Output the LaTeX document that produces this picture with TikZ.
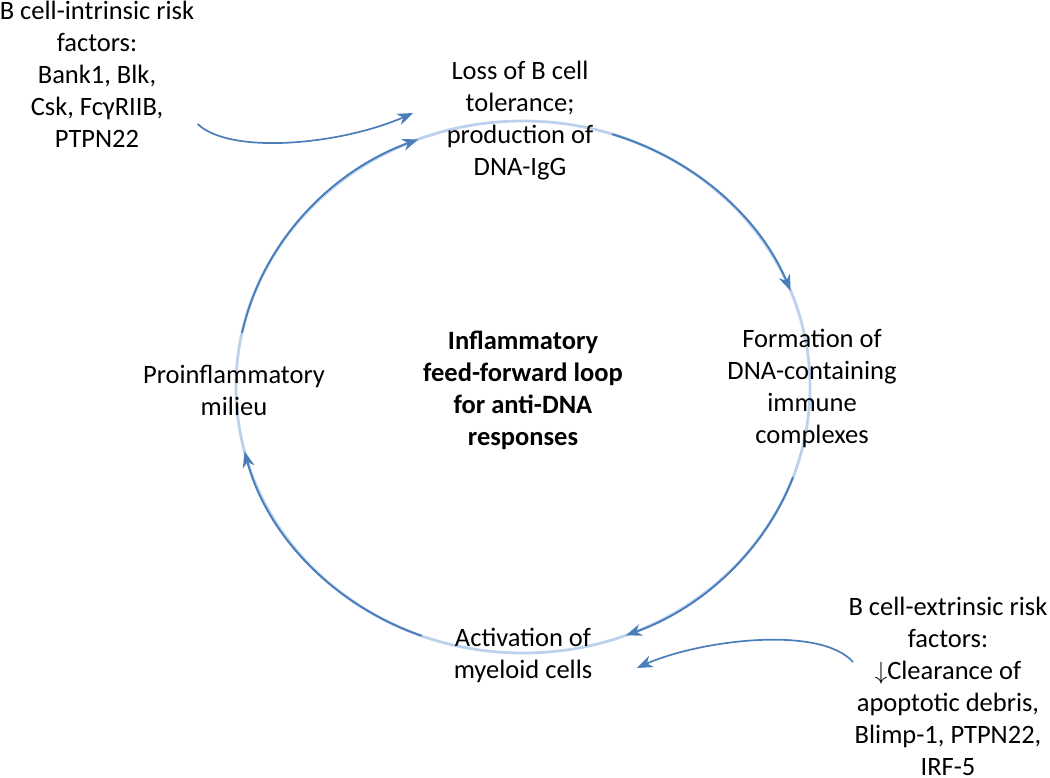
\documentclass[tikz,border=0pt]{standalone}
\usepackage{fontspec}
\setmainfont{Carlito}
\usepackage{tikz}
\usetikzlibrary{arrows.meta, positioning, calc}
\definecolor{loopblue}{HTML}{4A7EBB}
\definecolor{fadeblue}{HTML}{BCD1EC}

\begin{document}
\begin{tikzpicture}[x=1pt, y=-1pt, >={Stealth[length=16pt, width=12pt, inset=5pt]},
    stagetext/.style={align=center, font=\fontsize{26.5}{32}\selectfont},
    looparc/.style={draw=loopblue, line width=1.9pt, ->},
    riskarrow/.style={draw=loopblue, line width=1.7pt, ->}]
    \useasboundingbox (0,0) rectangle (1050,778);

    % the loop
    \coordinate (loop) at (523,387);
    \draw[fadeblue, line width=2.8pt] (loop) ellipse [x radius=287, y radius=266];
    \foreach \a/\b in {-71.9/-21.2, 19.8/69, 110.7/166, 191.7/248.6}
        \draw[looparc] ($(loop)+(\a:287 and 266)$) arc[start angle=\a, end angle=\b, x radius=287, y radius=266];

    % stages
    \node[stagetext] (loss) at (520,121) {Loss of B cell\\tolerance;\\production of\\DNA-IgG};
    \node[stagetext] (formation) at (812,388) {Formation of\\DNA-containing\\immune\\complexes};
    \node[stagetext] (activation) at (523,655) {Activation of\\myeloid cells};
    \node[stagetext] (milieu) at (234,390) {Proinflammatory\\milieu};
    \node[stagetext, font=\bfseries\fontsize{26.5}{32}\selectfont] (loopname) at (523,390) {Inflammatory\\feed-forward loop\\for anti-DNA\\responses};

    % risk factors
    \node[stagetext] (intrinsic) at (97,74) {B cell-intrinsic risk\\factors:\\Bank1, Blk,\\Csk, FcγRIIB,\\PTPN22};
    \node[stagetext] (extrinsic) at (948,686) {B cell-extrinsic risk\\factors:\\{\fontsize{32}{32}\selectfont$\downarrow$}Clearance of\\apoptotic debris,\\Blimp-1, PTPN22,\\IRF-5};

    \draw[riskarrow] ([yshift=-50pt]intrinsic.east) .. controls (230,155) and (340,145) .. ([xshift=-30pt, yshift=8pt]loss.west);
    \draw[riskarrow] ([xshift=8pt, yshift=24pt]extrinsic.west) .. controls (820,625) and (700,640) .. ([xshift=41pt, yshift=-13pt]activation.east);
\end{tikzpicture}
\end{document}
